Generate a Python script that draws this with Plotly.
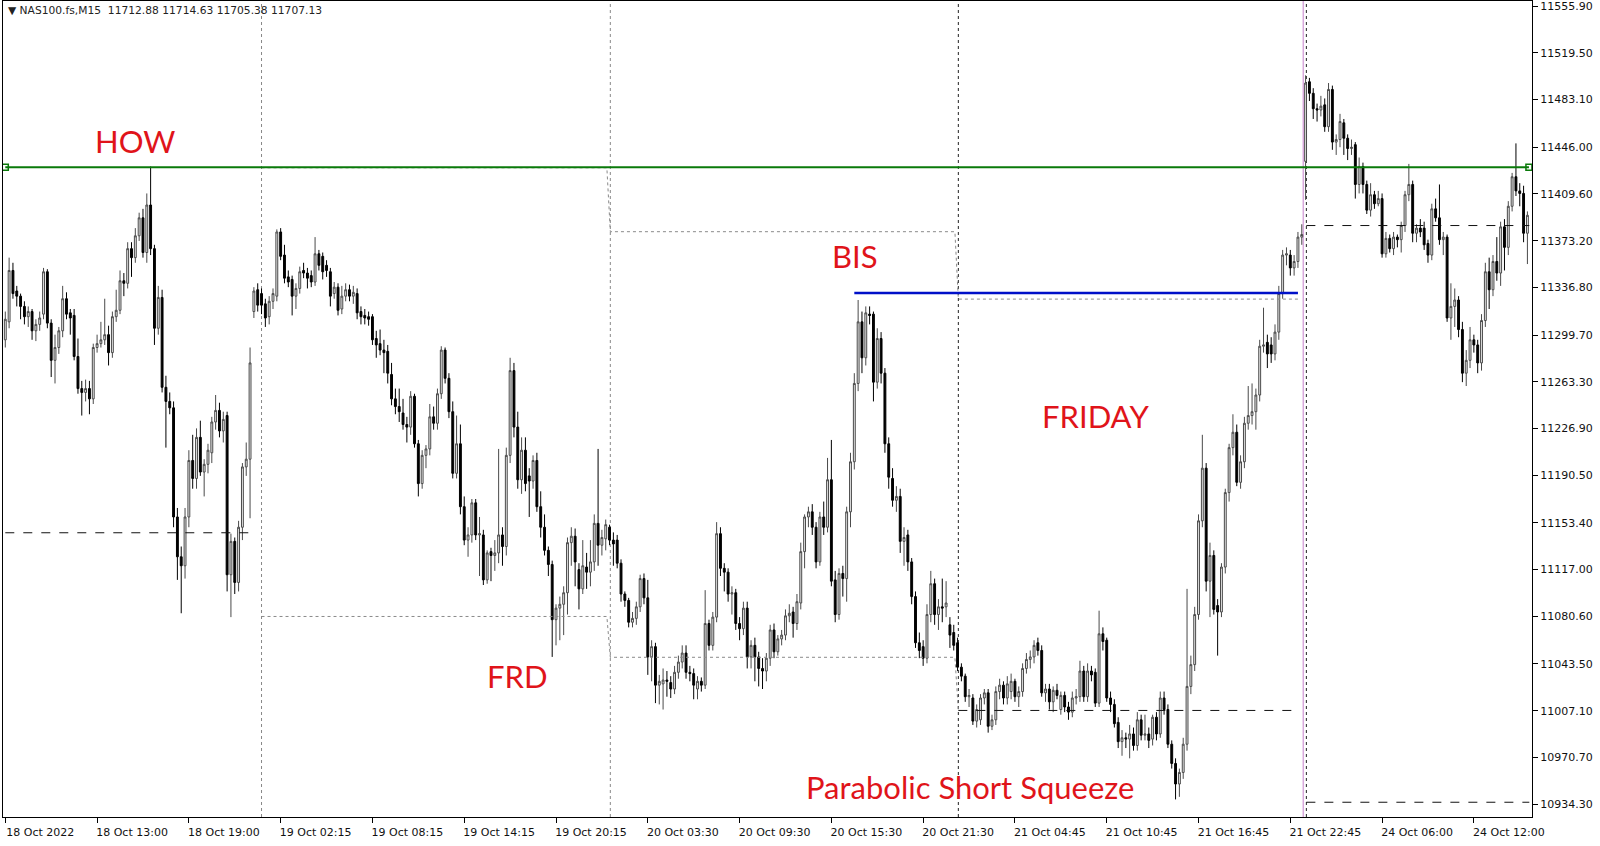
import plotly.graph_objects as go

# ---------------- data (NAS100.fs, M15) ----------------
open_ = [
11296,11310,11350,11334,11330,11322,11314,11318,11303,11308,
11316,11349,11309,11280,11290,11303,11328,11317,11315,11283,
11258,11255,11258,11250,11290,11293,11296,11300,11286,11314,
11319,11342,11340,11367,11360,11377,11391,11364,11401,11367,
11305,11329,11259,11248,11243,11158,11127,11120,11158,11202,
11188,11220,11193,11199,11208,11232,11241,11225,11237,11113,
11139,11107,11150,11197,11203,11318,11335,11332,11324,11314,
11326,11330,11380,11362,11345,11343,11330,11336,11350,11348,
11346,11341,11363,11361,11354,11349,11332,11337,11320,11330,
11335,11330,11332,11318,11315,11314,11314,11297,11293,11288,
11287,11269,11250,11244,11239,11230,11228,11252,11215,11184,
11206,11211,11236,11231,11254,11288,11266,11240,11192,11215,
11166,11140,11144,11169,11144,11144,11109,11131,11128,11130,
11144,11135,11206,11272,11228,11187,11210,11190,11186,11202,
11166,11150,11132,11121,11078,11087,11090,11099,11138,11143,
11117,11102,11119,11115,11123,11153,11136,11141,11150,11140,
11140,11122,11098,11093,11076,11079,11088,11110,11095,11049,
11057,11027,11028,11031,11029,11024,11037,11045,11052,11037,
11036,11024,11030,11027,11075,11058,11080,11145,11118,11115,
11098,11099,11075,11071,11087,11049,11058,11049,11040,11038,
11048,11070,11053,11063,11066,11081,11084,11075,11091,11131,
11158,11162,11150,11123,11158,11150,11187,11109,11082,11114,
11110,11162,11201,11262,11310,11282,11316,11316,11263,11297,
11270,11215,11188,11171,11174,11139,11144,11123,11096,11060,
11057,11048,11082,11106,11082,11088,11088,11074,11068,11060,
11041,11034,11018,11017,10999,11000,11017,11021,10995,11000,
11022,11027,11017,11022,11030,11018,11022,11040,11047,11049,
11060,11054,11021,11024,11014,11023,11008,11019,11010,11006,
11017,11018,11038,11018,11038,11037,11013,11067,11062,11017,
11012,10998,10983,10986,10985,10989,10980,11000,10988,10989,
10985,11002,10989,11017,11008,10981,10966,10950,10959,10981,
11026,11043,11082,11155,11196,11108,11128,11089,11084,11119,
11177,11212,11224,11185,11201,11231,11237,11240,11253,11291,
11294,11292,11285,11302,11332,11362,11362,11352,11357,11376,
11435,11497,11488,11476,11475,11479,11462,11491,11450,11452,
11465,11453,11445,11448,11417,11431,11417,11397,11409,11402,
11406,11363,11375,11367,11376,11374,11385,11409,11417,11379,
11383,11383,11371,11362,11398,11391,11374,11376,11313,11322,
11327,11304,11270,11280,11296,11292,11278,11311,11349,11335,
11357,11348,11384,11368,11400,11423,11412,11410,11379,
]
high = [
11318,11360,11356,11338,11332,11326,11322,11320,11312,11318,
11352,11351,11312,11300,11306,11338,11333,11320,11320,11297,
11264,11265,11264,11293,11300,11310,11328,11307,11318,11335,
11350,11348,11372,11372,11383,11395,11398,11410,11431,11370,
11338,11335,11268,11255,11248,11165,11135,11165,11210,11222,
11227,11233,11203,11215,11236,11253,11247,11240,11240,11145,
11142,11155,11200,11216,11290,11337,11340,11336,11328,11330,
11336,11382,11383,11370,11350,11346,11340,11353,11356,11352,
11350,11376,11366,11364,11358,11352,11341,11340,11338,11340,
11339,11338,11336,11322,11320,11318,11316,11303,11304,11296,
11292,11278,11258,11258,11250,11236,11256,11254,11218,11210,
11214,11246,11244,11258,11291,11290,11270,11248,11237,11230,
11174,11150,11172,11172,11158,11148,11132,11134,11140,11211,
11150,11212,11282,11278,11240,11220,11220,11196,11206,11208,
11178,11160,11135,11124,11090,11096,11104,11142,11150,11149,
11122,11140,11130,11140,11160,11211,11148,11156,11152,11146,
11144,11125,11100,11095,11084,11092,11113,11114,11109,11062,
11060,11035,11040,11038,11034,11042,11050,11058,11058,11042,
11040,11034,11033,11101,11078,11084,11154,11150,11122,11118,
11104,11102,11080,11092,11092,11062,11064,11053,11048,11052,
11074,11075,11066,11070,11086,11090,11088,11098,11138,11160,
11166,11168,11154,11162,11170,11204,11218,11116,11118,11120,
11166,11208,11270,11327,11318,11322,11322,11318,11305,11302,
11274,11220,11196,11182,11180,11150,11148,11126,11100,11068,
11062,11090,11116,11110,11094,11110,11108,11080,11074,11064,
11044,11036,11024,11020,11012,11020,11024,11024,11004,11026,
11032,11030,11034,11036,11032,11026,11044,11052,11054,11062,
11064,11058,11028,11028,11026,11028,11022,11022,11014,11022,
11024,11046,11042,11044,11042,11040,11085,11072,11064,11022,
11016,11002,10992,10990,10996,10994,11006,11004,11004,10994,
11004,11006,11022,11022,11012,10984,10970,10962,10986,11102,
11050,11088,11160,11222,11200,11138,11132,11094,11122,11180,
11215,11238,11230,11206,11236,11260,11262,11258,11296,11321,
11300,11298,11308,11338,11366,11368,11366,11362,11380,11386,
11502,11500,11492,11480,11486,11484,11496,11494,11456,11472,
11468,11456,11452,11450,11438,11434,11420,11418,11412,11412,
11410,11380,11378,11380,11378,11388,11412,11433,11420,11386,
11390,11388,11374,11402,11406,11417,11380,11378,11340,11336,
11330,11310,11288,11306,11300,11296,11316,11356,11360,11362,
11376,11388,11390,11404,11426,11449,11418,11416,11396,
]
low = [
11290,11305,11328,11322,11312,11308,11306,11296,11295,11303,
11312,11305,11267,11262,11285,11298,11312,11300,11280,11254,
11237,11248,11238,11246,11286,11290,11292,11276,11282,11310,
11316,11330,11336,11345,11356,11373,11360,11356,11362,11292,
11300,11255,11212,11238,11150,11109,11083,11110,11150,11180,
11180,11190,11174,11192,11200,11226,11220,11216,11100,11080,
11098,11100,11140,11190,11157,11313,11318,11316,11306,11308,
11320,11326,11358,11340,11337,11315,11320,11332,11344,11336,
11337,11338,11350,11343,11345,11322,11328,11315,11316,11326,
11326,11324,11312,11308,11308,11307,11292,11282,11284,11270,
11262,11245,11238,11232,11226,11216,11222,11212,11174,11180,
11196,11206,11226,11226,11250,11262,11235,11188,11188,11160,
11136,11127,11138,11140,11112,11105,11106,11108,11116,11122,
11120,11128,11200,11220,11180,11176,11178,11158,11180,11162,
11142,11128,11112,11049,11058,11062,11066,11082,11120,11104,
11086,11098,11102,11104,11116,11120,11128,11132,11136,11120,
11118,11092,11088,11072,11072,11074,11084,11090,11035,11030,
11013,11012,11008,11018,11017,11020,11032,11040,11032,11030,
11016,11016,11022,11024,11054,11054,11076,11112,11100,11092,
11082,11070,11062,11066,11040,11040,11030,11026,11024,11030,
11042,11048,11050,11058,11062,11076,11064,11070,11086,11118,
11150,11144,11118,11120,11144,11146,11104,11076,11078,11096,
11092,11150,11195,11256,11270,11276,11308,11248,11258,11262,
11208,11180,11166,11162,11130,11120,11116,11090,11056,11048,
11042,11044,11076,11074,11070,11076,11080,11056,11054,11038,
11030,11014,11010,10996,10994,10996,11012,10990,10992,10996,
11016,11012,11012,11016,11014,11010,11018,11036,11040,11044,
11050,11018,11014,11008,11006,11016,11004,11006,11000,11002,
11012,11014,11014,11014,11030,11010,11010,11054,11014,11006,
10994,10978,10972,10978,10970,10976,10976,10984,10984,10978,
10980,10984,10986,11004,10978,10962,10938,10940,10954,10976,
11020,11038,11078,11150,11100,11080,11082,11050,11080,11114,
11170,11206,11182,11180,11196,11226,11230,11226,11248,11286,
11274,11278,11280,11296,11328,11354,11346,11346,11352,11370,
11405,11482,11468,11466,11470,11458,11458,11444,11440,11446,
11440,11436,11440,11406,11410,11410,11394,11392,11398,11400,
11360,11360,11364,11362,11368,11364,11380,11404,11372,11372,
11376,11366,11356,11358,11388,11370,11362,11310,11296,11306,
11298,11263,11260,11274,11286,11270,11272,11306,11320,11330,
11342,11338,11350,11362,11396,11408,11400,11372,11355,
]
close = [
11312,11350,11332,11330,11322,11314,11318,11303,11308,11313,
11349,11309,11280,11290,11303,11328,11316,11313,11283,11258,
11255,11258,11250,11290,11293,11296,11300,11286,11314,11319,
11342,11340,11367,11360,11377,11391,11364,11401,11367,11305,
11329,11259,11248,11243,11158,11127,11120,11158,11202,11188,
11220,11193,11199,11210,11232,11241,11225,11234,11113,11139,
11107,11150,11197,11203,11278,11334,11323,11323,11313,11326,
11332,11380,11361,11344,11341,11330,11336,11349,11348,11344,
11341,11363,11354,11349,11350,11330,11337,11319,11330,11335,
11330,11333,11317,11314,11313,11312,11296,11292,11288,11286,
11270,11250,11244,11240,11230,11228,11252,11215,11184,11206,
11211,11236,11231,11254,11288,11266,11240,11192,11215,11166,
11140,11144,11169,11144,11145,11109,11130,11128,11130,11144,
11135,11206,11272,11228,11187,11210,11184,11186,11202,11166,
11150,11132,11121,11078,11087,11090,11099,11138,11143,11123,
11102,11120,11115,11123,11153,11136,11142,11152,11140,11137,
11122,11098,11093,11076,11079,11088,11110,11095,11049,11057,
11027,11030,11031,11030,11024,11037,11045,11052,11037,11036,
11027,11030,11027,11075,11058,11080,11145,11118,11115,11098,
11099,11075,11071,11087,11049,11058,11049,11040,11038,11048,
11070,11053,11063,11066,11081,11083,11075,11092,11131,11158,
11162,11150,11123,11158,11150,11187,11108,11082,11114,11110,
11162,11201,11262,11310,11282,11317,11315,11263,11297,11270,
11215,11189,11171,11174,11139,11142,11123,11096,11060,11054,
11048,11082,11106,11082,11088,11087,11091,11066,11058,11041,
11034,11018,11019,10999,11008,11017,11021,10995,11000,11022,
11027,11017,11028,11030,11018,11022,11040,11047,11049,11058,
11054,11021,11024,11014,11023,11019,11019,11010,11006,11017,
11018,11038,11018,11038,11035,11013,11067,11061,11017,11012,
10997,10983,10986,10985,10989,10980,11000,10988,10989,10984,
11002,10989,11017,11008,10981,10966,10950,10959,10981,11026,
11043,11082,11155,11196,11108,11128,11086,11084,11119,11177,
11212,11224,11185,11201,11231,11237,11240,11253,11291,11292,
11285,11285,11302,11332,11362,11363,11352,11357,11376,11378,
11496,11488,11476,11475,11478,11462,11491,11450,11452,11466,
11453,11445,11446,11417,11431,11417,11397,11409,11402,11406,
11363,11375,11367,11376,11374,11385,11409,11417,11379,11383,
11380,11370,11362,11398,11391,11374,11376,11313,11322,11327,
11304,11270,11280,11296,11292,11278,11311,11349,11335,11357,
11348,11384,11368,11400,11423,11412,11410,11379,11393,
]

time_labels = ["18 Oct 2022", "18 Oct 13:00", "18 Oct 19:00", "19 Oct 02:15",
               "19 Oct 08:15", "19 Oct 14:15", "19 Oct 20:15", "20 Oct 03:30",
               "20 Oct 09:30", "20 Oct 15:30", "20 Oct 21:30", "21 Oct 04:45",
               "21 Oct 10:45", "21 Oct 16:45", "21 Oct 22:45", "24 Oct 06:00",
               "24 Oct 12:00"]
price_ticks = [11555.90, 11519.50, 11483.10, 11446.00, 11409.60, 11373.20,
               11336.80, 11299.70, 11263.30, 11226.90, 11190.50, 11153.40,
               11117.00, 11080.60, 11043.50, 11007.10, 10970.70, 10934.30]

# horizontal levels
how_level = 11430.5
bis_level = 11332.5
bis_start, bis_end = 222, 338
prev_high_x = [67, 157.3, 158.2, 248.3, 249.2, 338]
prev_high_y = [11430.0, 11430.0, 11380.2, 11380.2, 11327.7, 11327.7]
prev_low_x = [67, 157.3, 158.2, 248.3, 249.2]
prev_low_y = [11080.5, 11080.5, 11048.7, 11048.7, 11007.3]
dash_start = [0, 249.2, 340.2, 340.2]
dash_end = [65.5, 338.5, 398.5, 398.5]
dash_price = [11145.7, 11007.3, 11385.0, 10935.8]
day_separators = [67, 158.2, 249.2, 340.2]
week_marker = 339.4

n = min(len(open_), len(high), len(low), len(close))
xs = list(range(n))

fig = go.Figure()
fig.add_trace(go.Candlestick(
    x=xs, open=open_[:n], high=high[:n], low=low[:n], close=close[:n],
    increasing=dict(line=dict(color="#4a4a4a", width=1), fillcolor="#ececec"),
    decreasing=dict(line=dict(color="#000000", width=1), fillcolor="#000000"),
    whiskerwidth=0, showlegend=False, hoverinfo="skip"))

# separators
for i, b in enumerate(day_separators):
    fig.add_shape(type="line", xref="x", yref="paper", x0=b, x1=b, y0=0, y1=1,
                  line=dict(color="#888888" if i < 2 else "#222222", width=1, dash="dot"),
                  layer="below")
fig.add_shape(type="line", xref="x", yref="paper", x0=week_marker, x1=week_marker,
              y0=0, y1=1, line=dict(color="#d8a8dc", width=1.5), layer="below")

# dotted previous-day lines
fig.add_trace(go.Scatter(x=prev_high_x, y=prev_high_y, mode="lines",
                         line=dict(color="#8a8a8a", width=1, dash="dot"),
                         showlegend=False, hoverinfo="skip"))
fig.add_trace(go.Scatter(x=prev_low_x, y=prev_low_y, mode="lines",
                         line=dict(color="#8a8a8a", width=1, dash="dot"),
                         showlegend=False, hoverinfo="skip"))
for s, e, p in zip(dash_start, dash_end, dash_price):
    fig.add_trace(go.Scatter(x=[s, e], y=[p, p], mode="lines",
                             line=dict(color="#111111", width=1, dash="dash"),
                             showlegend=False, hoverinfo="skip"))

# HOW line (green) and BIS line (blue)
fig.add_trace(go.Scatter(x=[0, n - 0.6], y=[how_level, how_level], mode="lines+markers",
                         line=dict(color="#0a7a0a", width=2),
                         marker=dict(symbol="square-open", size=6, color="#0a7a0a", line=dict(width=1.5)),
                         showlegend=False, hoverinfo="skip"))
fig.add_trace(go.Scatter(x=[bis_start, bis_end], y=[bis_level, bis_level], mode="lines",
                         line=dict(color="#0010c8", width=2.5),
                         showlegend=False, hoverinfo="skip"))

red = "#e0141a"
tfont = dict(family="Lato, Open Sans, sans-serif", size=31, color=red)
for txt, xb, yp in [("HOW", 34, 11451), ("BIS", 222.3, 11361), ("FRIDAY", 285, 11237),
                    ("FRD", 134, 11034.5), ("Parabolic Short Squeeze", 252.2, 10948)]:
    fig.add_annotation(x=xb, y=yp, text=txt, showarrow=False, font=tfont,
                       xanchor="center", yanchor="middle")

fig.add_annotation(xref="paper", yref="paper", x=0.002, y=0.988,
                   text="\u25bc NAS100.fs,M15  11712.88 11714.63 11705.38 11707.13",
                   showarrow=False, xanchor="left", yanchor="middle",
                   font=dict(family="DejaVu Sans", size=10.7, color="#222222"))

fig.update_layout(
    width=1600, height=846,
    margin=dict(l=3, r=68, t=1, b=29),
    paper_bgcolor="white", plot_bgcolor="white",
    font=dict(family="DejaVu Sans", size=11, color="#111111"),
    showlegend=False,
    xaxis=dict(range=[-0.6, 399.2], rangeslider=dict(visible=False),
               tickvals=[24 * i for i in range(len(time_labels))], ticktext=time_labels,
               ticks="outside", ticklen=5, tickcolor="black", ticklabelshift=35,
               ticklabeloverflow="allow",
               showgrid=False, zeroline=False, showline=True, mirror=True,
               linecolor="black", linewidth=1),
    yaxis=dict(range=[10924.3, 11559.9], side="right",
               tickvals=price_ticks, ticktext=["%.2f" % v for v in price_ticks],
               ticks="outside", ticklen=5, tickcolor="black",
               ticklabeloverflow="allow",
               showgrid=False, zeroline=False, showline=True, mirror=True,
               linecolor="black", linewidth=1),
)

fig.write_html("out.html", config={"displayModeBar": False},
               post_script="document.body.style.margin='0px';document.body.style.overflow='hidden';")
